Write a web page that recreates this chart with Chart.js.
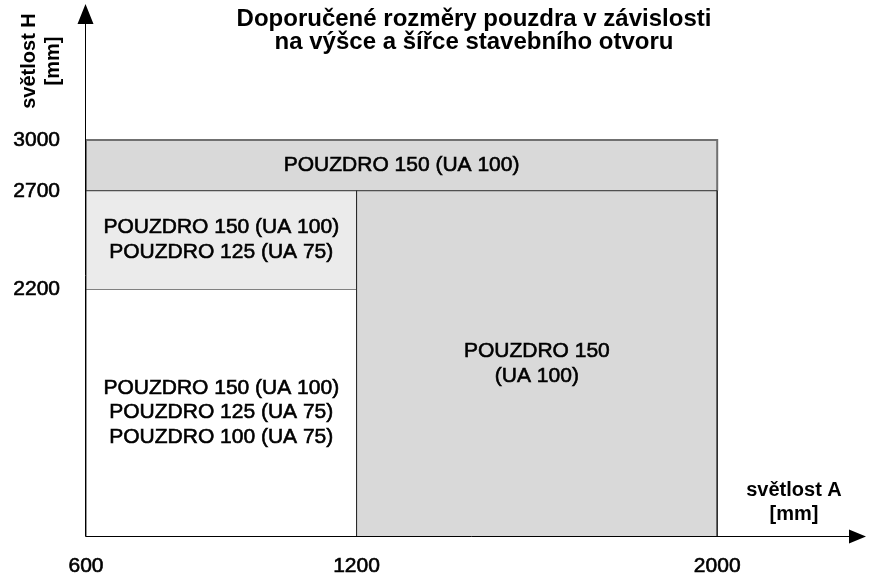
<!DOCTYPE html>
<html lang="cs">
<head>
<meta charset="utf-8">
<title>Doporučené rozměry pouzdra</title>
<script src="https://cdn.jsdelivr.net/npm/chart.js@4.4.1/dist/chart.umd.min.js"></script>
<style>
  html, body { margin: 0; padding: 0; background: #fff; }
  #wrap { width: 872px; height: 579px; }
</style>
</head>
<body>
<div id="wrap"><canvas id="zoneChart" width="872" height="579"></canvas></div>
<script>
// axis ranges (light opening A on x, H on y)
const X_MIN = 600;
const X_MAX = 2330;
const Y_MIN = 1316;
const Y_MAX = 3974;

// tick labels
const xTicks = [600, 1200, 2000];
const yTicks = [2200, 2700, 3000];

// zones: recommended casing for each width / height range
const zoneWidthFrom = [600, 600, 600, 1200];
const zoneWidthTo = [2000, 1200, 1200, 2000];
const zoneHeightFrom = [2700, 2200, Y_MIN, Y_MIN];
const zoneHeightTo = [3000, 2700, 2200, 2700];
const zoneLabels = [
  ['POUZDRO 150 (UA 100)'],
  ['POUZDRO 150 (UA 100)', 'POUZDRO 125 (UA 75)'],
  ['POUZDRO 150 (UA 100)', 'POUZDRO 125 (UA 75)', 'POUZDRO 100 (UA 75)'],
  ['POUZDRO 150', '(UA 100)']
];

const titleLines = ['Doporučené rozměry pouzdra v závislosti', 'na výšce a šířce stavebního otvoru'];
const xTitleLines = ['světlost A', '[mm]'];
const yTitleLines = ['světlost H', '[mm]'];

// styles
const FONT = '"Liberation Sans", Arial, sans-serif';
const zoneFill = ['#d9d9d9', '#ebebeb', '#ffffff', '#d9d9d9'];
const zoneBorder = ['#707070', '#2b2b2b', '#2b2b2b', '#2b2b2b'];
const zoneBorderWidth = [2, 1, 1, 1];

document.addEventListener('DOMContentLoaded', function() {
  initializeZoneChart();
});

/**
 * Builds one filled line per zone: left edge, top edge, right edge, filled down to the zone bottom
 */
function buildZoneDatasets() {
  return zoneLabels.map(function(label, i) {
    return {
      label: label.join(' '),
      data: [
        { x: zoneWidthFrom[i], y: zoneHeightFrom[i] },
        { x: zoneWidthFrom[i], y: zoneHeightTo[i] },
        { x: zoneWidthTo[i], y: zoneHeightTo[i] },
        { x: zoneWidthTo[i], y: zoneHeightFrom[i] }
      ],
      fill: { value: zoneHeightFrom[i] },
      backgroundColor: zoneFill[i],
      borderColor: zoneBorder[i],
      borderWidth: zoneBorderWidth[i],
      pointRadius: 0,
      tension: 0,
      order: i === 0 ? 1 : 0
    };
  });
}

// slightly heavier text, like the original rendering
function heavyText(ctx, text, x, y, w) {
  ctx.lineWidth = w;
  ctx.strokeText(text, x, y);
  ctx.fillText(text, x, y);
}

// texts inside zones, titles and axis arrows
const decorPlugin = {
  id: 'decor',
  afterDatasetsDraw(chart) {
    const ctx = chart.ctx;
    const xs = chart.scales.x;
    const ys = chart.scales.y;
    const area = chart.chartArea;

    ctx.save();
    ctx.fillStyle = '#000';
    ctx.strokeStyle = '#000';
    ctx.textAlign = 'center';
    ctx.textBaseline = 'middle';

    // zone labels
    ctx.font = '21px ' + FONT;
    zoneLabels.forEach(function(lines, i) {
      const cx = (xs.getPixelForValue(zoneWidthFrom[i]) + xs.getPixelForValue(zoneWidthTo[i])) / 2;
      const cy = (ys.getPixelForValue(zoneHeightFrom[i]) + ys.getPixelForValue(zoneHeightTo[i])) / 2;
      const lh = 24.7;
      lines.forEach(function(t, k) {
        heavyText(ctx, t, cx, cy + (k - (lines.length - 1) / 2) * lh, 0.6);
      });
    });

    // axes with arrows
    const ax = area.left - 0.5;
    const ay = area.bottom + 0.5;
    ctx.lineWidth = 1;
    ctx.beginPath();
    ctx.moveTo(ax, ay);
    ctx.lineTo(ax, area.top + 10);
    ctx.moveTo(ax, ay);
    ctx.lineTo(area.right - 8, ay);
    ctx.stroke();
    ctx.beginPath();
    ctx.moveTo(ax, area.top - 1);
    ctx.lineTo(ax - 8, area.top + 19);
    ctx.lineTo(ax + 8, area.top + 19);
    ctx.closePath();
    ctx.moveTo(area.right, ay);
    ctx.lineTo(area.right - 17, ay - 7);
    ctx.lineTo(area.right - 17, ay + 7);
    ctx.closePath();
    ctx.fill();

    // chart title
    ctx.font = 'bold 24px ' + FONT;
    ctx.fillText(titleLines[0], 474, 19.5);
    ctx.fillText(titleLines[1], 474, 42.5);

    // x axis title
    ctx.font = 'bold 20px ' + FONT;
    ctx.fillText(xTitleLines[0], 794, 490);
    ctx.fillText(xTitleLines[1], 794, 514.5);

    // y axis title, rotated
    ctx.translate(41, 61);
    ctx.rotate(-Math.PI / 2);
    ctx.fillText(yTitleLines[0], 0, -11.5);
    ctx.fillText(yTitleLines[1], 0, 12);
    ctx.restore();
  }
};

function initializeZoneChart() {
  const canvas = document.getElementById('zoneChart');
  if (!canvas) return;

  new Chart(canvas, {
    type: 'line',
    data: { datasets: buildZoneDatasets() },
    options: {
      responsive: false,
      animation: false,
      events: [],
      layout: { padding: { top: 5, right: 6, left: 0, bottom: 0 } },
      scales: {
        x: {
          type: 'linear',
          min: X_MIN,
          max: X_MAX,
          grid: { display: false, drawTicks: false },
          border: { display: false },
          afterBuildTicks: function(scale) {
            scale.ticks = xTicks.map(v => ({ value: v }));
          },
          afterFit: function(scale) {
            scale.height = 43;
            scale.paddingLeft = 0;
            scale.paddingRight = 0;
          },
          ticks: {
            autoSkip: false,
            maxRotation: 0,
            padding: 18,
            color: '#000',
            textStrokeColor: '#000',
            textStrokeWidth: 0.6,
            font: { family: FONT, size: 21 },
            callback: function(value) {
              return String(value);
            }
          }
        },
        y: {
          type: 'logarithmic',
          min: Y_MIN,
          max: Y_MAX,
          grid: { display: false, drawTicks: false },
          border: { display: false },
          afterBuildTicks: function(scale) {
            scale.ticks = yTicks.map(v => ({ value: v }));
          },
          afterFit: function(scale) {
            scale.width = 86;
            scale.paddingTop = 0;
            scale.paddingBottom = 0;
          },
          ticks: {
            autoSkip: false,
            padding: 26,
            color: '#000',
            textStrokeColor: '#000',
            textStrokeWidth: 0.6,
            font: { family: FONT, size: 21 },
            callback: function(value) {
              return String(value);
            }
          }
        }
      },
      plugins: {
        legend: { display: false },
        tooltip: { enabled: false },
        title: { display: false }
      }
    },
    plugins: [decorPlugin]
  });
}
</script>
</body>
</html>
